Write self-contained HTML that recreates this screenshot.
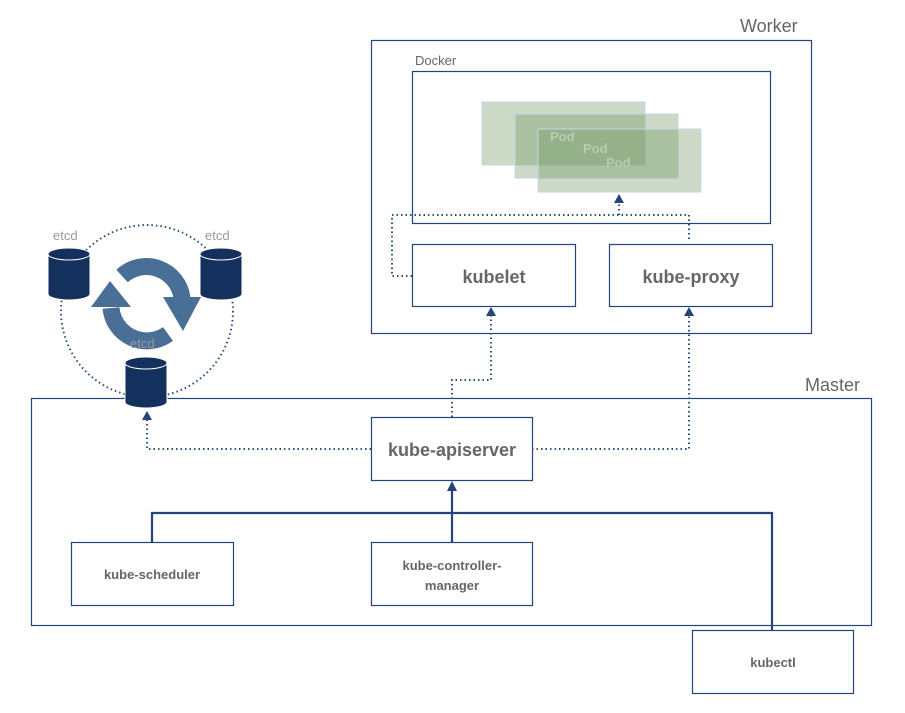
<!DOCTYPE html>
<html><head><meta charset="utf-8"><style>
body{margin:0;background:#fff;}
svg{display:block;font-family:"Liberation Sans",sans-serif;}
</style></head><body>
<svg width="905" height="713" viewBox="0 0 905 713" xmlns="http://www.w3.org/2000/svg">
<g fill="none" stroke="#23457a" stroke-width="1.2">
<rect x="371.5" y="40.5" width="440" height="293"/>
<rect x="412.5" y="71.5" width="358" height="152"/>
<rect x="412.5" y="244.5" width="163" height="62"/>
<rect x="609.5" y="244.5" width="163" height="62"/>
<rect x="31.5" y="398.5" width="840" height="227"/>
<rect x="371.5" y="417.5" width="161" height="63"/>
<rect x="71.5" y="542.5" width="162" height="63"/>
<rect x="371.5" y="542.5" width="161" height="63"/>
<rect x="692.5" y="630.5" width="161" height="63"/>
</g>
<g fill="#6f9760" fill-opacity="0.36" stroke="#c9d6e4" stroke-width="1">
<rect x="482" y="102" width="163" height="63"/>
<rect x="515" y="114" width="163" height="64"/>
<rect x="538" y="129" width="163" height="63"/>
</g>
<g fill="#b8ccb0" font-weight="bold" font-size="13">
<text x="550" y="141">Pod</text><text x="583" y="153">Pod</text><text x="606" y="167">Pod</text>
</g>
<g fill="none" stroke="#2a5080" stroke-width="2" stroke-dasharray="1.5 3">
<path d="M412 276 H392 V215 H689 V240"/>
<path d="M619 215 V202"/>
<path d="M452 417 V380 H491 V316"/>
<path d="M532 449 H689 V316"/>
<path d="M371 449 H147 V420"/>
<circle cx="147" cy="311" r="86"/>
</g>
<g fill="#23457a">
<polygon points="619,194 614,203 624,203"/>
<polygon points="491,307 486,316 496,316"/>
<polygon points="689,307 684,316 694,316"/>
<polygon points="147,411 142,420 152,420"/>
<polygon points="452,481 447,491 457,491"/>
</g>
<g fill="none" stroke="#23457a" stroke-width="2.2">
<path d="M152 542 V513 H772 V630"/>
<path d="M452 542 V488"/>
</g>
<g fill="none" stroke="#4a6f96" stroke-width="17">
<path d="M122 276 A36 36 0 0 1 182 298"/>
<path d="M168 334 A36 36 0 0 1 111 308"/>
</g>
<g fill="#4a6f96">
<polygon points="163,297 201,297 183,331"/>
<polygon points="91,307 131,307 110,281"/>
</g>
<g fill="#14305c" stroke="#fff" stroke-width="1">
<path d="M48 254 V294 A21 6 0 0 0 90 294 V254 Z"/><ellipse cx="69" cy="254" rx="21" ry="6"/>
<path d="M200 254 V294 A21 6 0 0 0 242 294 V254 Z"/><ellipse cx="221" cy="254" rx="21" ry="6"/>
<path d="M125 363 V402 A21 6 0 0 0 167 402 V363 Z"/><ellipse cx="146" cy="363" rx="21" ry="6"/>
</g>
<g fill="#999" font-size="13">
<text x="53" y="240">etcd</text><text x="205" y="240">etcd</text><text x="130" y="348">etcd</text>
</g>
<g fill="#666">
<text x="740" y="32" font-size="18">Worker</text>
<text x="805" y="391" font-size="18">Master</text>
<text x="415" y="65" font-size="13">Docker</text>
<g font-weight="bold" text-anchor="middle">
<text x="494" y="283" font-size="18">kubelet</text>
<text x="691" y="283" font-size="18">kube-proxy</text>
<text x="452" y="456" font-size="18">kube-apiserver</text>
<text x="152" y="579" font-size="13">kube-scheduler</text>
<text x="452" y="570" font-size="13">kube-controller-</text>
<text x="452" y="590" font-size="13">manager</text>
<text x="773" y="667" font-size="13">kubectl</text>
</g>
</g>
</svg>
</body></html>
